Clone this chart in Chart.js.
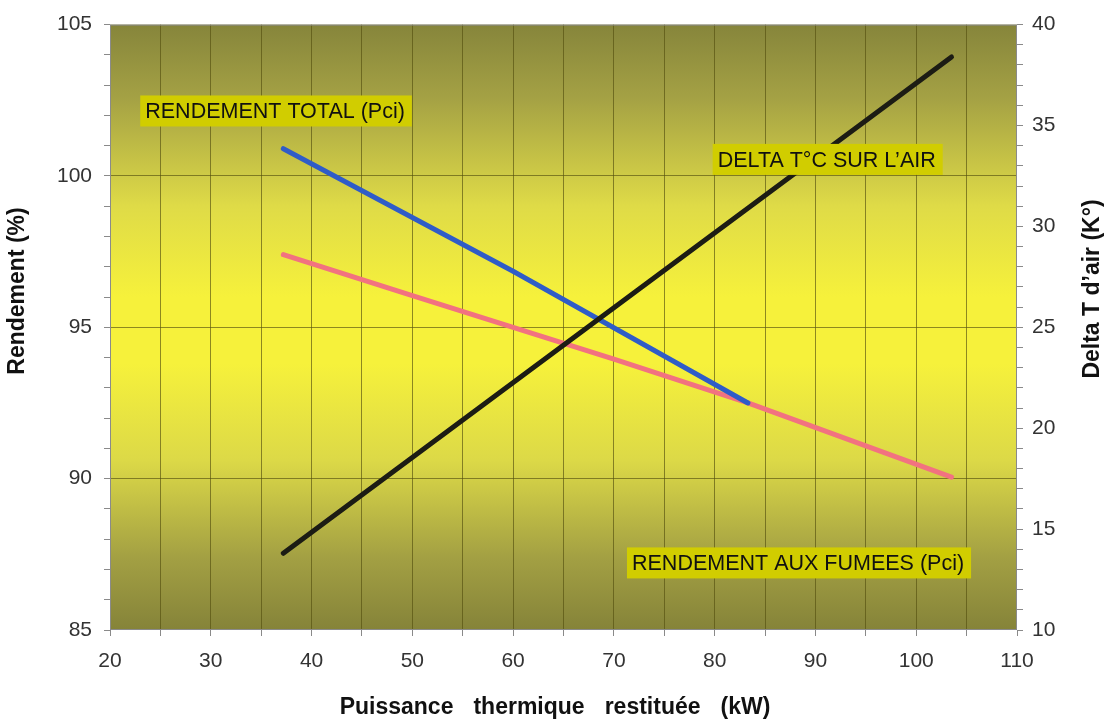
<!DOCTYPE html>
<html>
<head>
<meta charset="utf-8">
<script src="https://cdn.jsdelivr.net/npm/chart.js@4.4.1/dist/chart.umd.min.js"></script>
<style>
  body { margin: 0; background: #ffffff; }
  #wrap { width: 1107px; height: 722px; }
</style>
</head>
<body>
<div id="wrap"><canvas id="chart" width="1107" height="722"></canvas></div>
<script>
// Courbes de rendement / delta T en fonction de la puissance restituee

// Rendement total (Pci) - axe gauche
const powerTotal = [37.2, 60, 83.3];
const rendTotal = [100.9, 96.85, 92.5];

// Rendement aux fumees (Pci) - axe gauche
const powerFumees = [37.2, 50, 60, 70, 83.3, 103.5];
const rendFumees = [97.4, 96.05, 95.0, 93.95, 92.5, 90.05];

// Delta T sur l'air - axe droit
const powerDelta = [37.2, 103.5];
const deltaT = [13.8, 38.4];

// Etiquettes des axes
const xTickLabels = [20, 30, 40, 50, 60, 70, 80, 90, 100, 110];
const yLeftTickLabels = [85, 90, 95, 100, 105];
const yRightTickLabels = [10, 15, 20, 25, 30, 35, 40];

// Cartouches de texte (position en unites du graphique)
const notes = [
    { text: 'RENDEMENT TOTAL (Pci)', x: 23.0, y: 102.13 },
    { text: 'DELTA T°C SUR L’AIR', x: 79.8, y: 100.53 },
    { text: 'RENDEMENT AUX FUMEES (Pci)', x: 71.3, y: 87.2 }
];

const FONT = "'Liberation Sans', Arial, Helvetica, sans-serif";
const gridColor = 'rgba(85, 80, 15, 0.65)';
const frameColor = '#8a8a8a';

function toPoints(xs, ys) {
    return xs.map((x, i) => ({ x: x, y: ys[i] }));
}

// texte avec espacement large entre les mots
function spacedText(ctx, words, cx, cy, gap) {
    const widths = words.map(w => ctx.measureText(w).width);
    const total = widths.reduce((s, w) => s + w, 0) + gap * (words.length - 1);
    let x = cx - total / 2;
    ctx.textAlign = 'left';
    words.forEach((w, i) => {
        ctx.fillText(w, x, cy);
        x += widths[i] + gap;
    });
}

Chart.defaults.font.family = FONT;
Chart.defaults.color = '#333333';

const chartPlugin = {
    id: 'decor',
    beforeDraw(chart) {
        const { ctx, chartArea: a } = chart;
        const g = ctx.createLinearGradient(0, a.top, 0, a.bottom);
        g.addColorStop(0, '#86853b');
        g.addColorStop(0.12, '#a4a144');
        g.addColorStop(0.3, '#dfdb47');
        g.addColorStop(0.45, '#f6f13b');
        g.addColorStop(0.56, '#f6f13b');
        g.addColorStop(0.72, '#dcd947');
        g.addColorStop(0.88, '#a3a043');
        g.addColorStop(1, '#858339');
        ctx.save();
        ctx.fillStyle = g;
        ctx.fillRect(a.left, a.top, a.width, a.height);
        ctx.restore();
    },
    afterDraw(chart) {
        const { ctx, chartArea: a, scales } = chart;
        ctx.save();
        // cadre
        ctx.strokeStyle = frameColor;
        ctx.lineWidth = 1;
        ctx.strokeRect(a.left + 0.5, a.top + 0.5, a.width - 1, a.height - 1);

        // cartouches
        ctx.font = '21.5px ' + FONT;
        ctx.textBaseline = 'middle';
        ctx.textAlign = 'left';
        notes.forEach(n => {
            const px = scales.x.getPixelForValue(n.x);
            const py = scales.y.getPixelForValue(n.y);
            const w = ctx.measureText(n.text).width;
            ctx.fillStyle = '#d1cd00';
            ctx.fillRect(px, py - 16, w + 12, 31);
            ctx.fillStyle = '#111111';
            ctx.fillText(n.text, px + 5, py + 1);
        });

        // titres des axes
        ctx.fillStyle = '#111111';
        ctx.font = 'bold 23px ' + FONT;
        ctx.textBaseline = 'middle';
        spacedText(ctx, ['Puissance', 'thermique', 'restituée', '(kW)'], 555, 708, 20);

        ctx.textAlign = 'center';
        ctx.save();
        ctx.translate(18, 291);
        ctx.rotate(-Math.PI / 2);
        ctx.fillText('Rendement (%)', 0, 0);
        ctx.restore();

        ctx.save();
        ctx.translate(1093, 289);
        ctx.rotate(-Math.PI / 2);
        ctx.fillText('Delta T d\u2019air (K°)', 0, 0);
        ctx.restore();

        ctx.restore();
    }
};

const ctx = document.getElementById('chart').getContext('2d');
window.rendChart = new Chart(ctx, {
    type: 'line',
    data: {
        datasets: [
            {
                label: 'DELTA T°C SUR L’AIR',
                data: toPoints(powerDelta, deltaT),
                yAxisID: 'y2',
                borderColor: '#1c1c14',
                borderWidth: 5,
                borderCapStyle: 'round',
                pointRadius: 0,
                order: 0
            },
            {
                label: 'RENDEMENT TOTAL (Pci)',
                data: toPoints(powerTotal, rendTotal),
                yAxisID: 'y',
                borderColor: '#2f5cc8',
                borderWidth: 5,
                borderCapStyle: 'round',
                pointRadius: 0,
                order: 1
            },
            {
                label: 'RENDEMENT AUX FUMEES (Pci)',
                data: toPoints(powerFumees, rendFumees),
                yAxisID: 'y',
                borderColor: '#f27280',
                borderWidth: 5,
                borderCapStyle: 'round',
                pointRadius: 0,
                order: 2
            }
        ]
    },
    options: {
        responsive: false,
        animation: false,
        layout: { padding: { top: 24, left: 0, right: 0, bottom: 0 } },
        plugins: {
            legend: { display: false },
            tooltip: { enabled: false }
        },
        scales: {
            x: {
                type: 'linear',
                min: 20,
                max: 110,
                afterFit: s => { s.height = 92; },
                border: { display: false },
                grid: {
                    color: c => (c.tick && (c.tick.value === 20 || c.tick.value === 110)) ? 'transparent' : gridColor,
                    tickColor: frameColor,
                    tickLength: 6
                },
                ticks: {
                    stepSize: 5,
                    autoSkip: false,
                    maxRotation: 0,
                    padding: 13,
                    font: { size: 21 },
                    callback: v => xTickLabels.includes(Math.round(v)) ? String(Math.round(v)) : ''
                }
            },
            y: {
                position: 'left',
                min: 85,
                max: 105,
                afterFit: s => { s.width = 110; },
                border: { display: false },
                grid: {
                    color: c => {
                        const v = c.tick ? Math.round(c.tick.value) : 0;
                        if (v === 85 || v === 105) return 'transparent';
                        return yLeftTickLabels.includes(v) ? gridColor : 'transparent';
                    },
                    tickColor: frameColor,
                    tickLength: 6
                },
                ticks: {
                    stepSize: 1,
                    autoSkip: false,
                    padding: 12,
                    font: { size: 21 },
                    callback: v => yLeftTickLabels.includes(Math.round(v)) ? String(Math.round(v)) : ''
                }
            },
            y2: {
                position: 'right',
                min: 10,
                max: 40,
                afterFit: s => { s.width = 90; },
                border: { display: false },
                grid: {
                    drawOnChartArea: false,
                    tickColor: frameColor,
                    tickLength: 6
                },
                ticks: {
                    stepSize: 1,
                    autoSkip: false,
                    padding: 9,
                    font: { size: 21 },
                    callback: v => yRightTickLabels.includes(Math.round(v)) ? String(Math.round(v)) : ''
                }
            }
        }
    },
    plugins: [chartPlugin]
});
</script>
</body>
</html>
